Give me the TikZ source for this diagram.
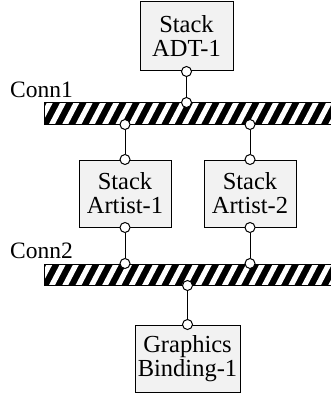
\documentclass[tikz,border=0pt]{standalone}
\usepackage{fontspec}
\setmainfont{Liberation Serif}
\definecolor{boxgray}{RGB}{242,242,242}
\begin{document}
\begin{tikzpicture}[x=1pt,y=-1pt,
  box/.style={draw, line width=1pt, fill=boxgray, align=center, inner sep=0pt,
    font=\fontsize{24.5}{24}\selectfont},
  port/.style={circle, draw, fill=white, line width=1pt, minimum size=10pt, inner sep=0pt},
  wire/.style={line width=1pt},
  bar/.style={draw, line width=1pt, fill=black, minimum height=21pt, inner sep=0pt,
    path picture={
      \foreach \k in {-2,...,25} {
        \fill[white] ([xshift=\k*13.3pt+5pt]path picture bounding box.south west)
          -- ++(6pt,0pt) -- ++(11pt,21pt) -- ++(-6pt,0pt) -- cycle;
      }
    }},
  lbl/.style={font=\fontsize{23.5}{24}\selectfont, anchor=base west, inner sep=0pt}]
\useasboundingbox (0,0) rectangle (331,393);
\clip (0,0) rectangle (331,393);

\node[box, minimum width=93pt, minimum height=69pt] (adt) at (186.5,36.5) {Stack\\ADT-1};
\node[bar, minimum width=300pt] (conn1) at (194,113.5) {};
\node[box, minimum width=92pt, minimum height=67pt] (art1) at (125,193.5) {Stack\\Artist-1};
\node[box, minimum width=92pt, minimum height=67pt] (art2) at (250,193.5) {Stack\\Artist-2};
\node[bar, minimum width=300pt] (conn2) at (194,274.5) {};
\node[box, minimum width=105pt, minimum height=67pt] (gb) at (187.5,358.5) {Graphics\\Binding-1};

\node[lbl] (l1) at (10,97.7) {Conn1};
\node[lbl] (l2) at (10,258.7) {Conn2};

\node[port] (a1) at (adt.south) {};
\node[port] (c1t) at (conn1.north -| adt.south) {};
\node[port] (c1l) at (conn1.south -| art1.north) {};
\node[port] (c1r) at (conn1.south -| art2.north) {};
\node[port] (r1t) at (art1.north) {};
\node[port] (r2t) at (art2.north) {};
\node[port] (r1b) at (art1.south) {};
\node[port] (r2b) at (art2.south) {};
\node[port] (c2l) at (conn2.north -| art1.south) {};
\node[port] (c2r) at (conn2.north -| art2.south) {};
\node[port] (c2b) at (conn2.south -| gb.north) {};
\node[port] (gt) at (gb.north) {};

\draw[wire] (a1) -- (c1t);
\draw[wire] (c1l) -- (r1t);
\draw[wire] (c1r) -- (r2t);
\draw[wire] (r1b) -- (c2l);
\draw[wire] (r2b) -- (c2r);
\draw[wire] (c2b) -- (gt);
\end{tikzpicture}
\end{document}
